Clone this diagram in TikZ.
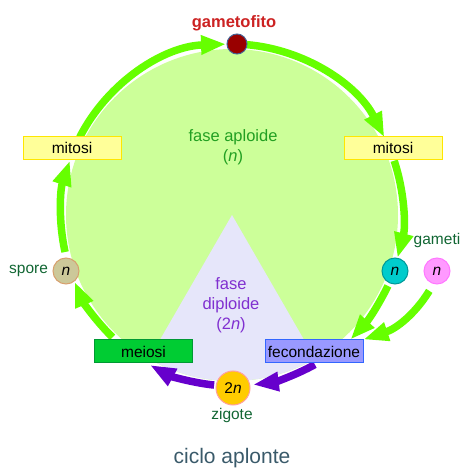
\documentclass[tikz,border=0pt]{standalone}
\usepackage{fontspec}
\setmainfont{Liberation Sans}
\usetikzlibrary{arrows.meta,calc,positioning}

\definecolor{ringgreen}{HTML}{66FF00}
\definecolor{haplgreen}{HTML}{CCFF99}
\definecolor{diplviolet}{HTML}{E6E6FA}
\definecolor{arrowviolet}{HTML}{6600CC}
\definecolor{labelgreen}{HTML}{116633}
\definecolor{haploidtext}{HTML}{22A022}
\definecolor{diploidtext}{HTML}{8030D0}
\definecolor{titletext}{HTML}{3A5A6A}

\begin{document}
\begin{tikzpicture}[x=1pt, y=1pt,
		greenarrow/.style={line width=7.5pt, color=ringgreen, -{Triangle[length=25pt, width=18pt]}},
		violetarrow/.style={line width=7.5pt, color=arrowviolet, -{Triangle[length=26pt, width=18pt]}},
		phasebox/.style={draw, line width=1pt, minimum width=98pt, minimum height=23pt, inner sep=0pt, font=\fontsize{15.5}{18}\selectfont},
		cellnode/.style={circle, draw, line width=1pt, minimum size=26pt, inner sep=0pt, font=\fontsize{15.5}{18}\selectfont},
		smalltext/.style={text=labelgreen, font=\fontsize{15.5}{18}\selectfont}]
			%%%%% START %%%%%
			\useasboundingbox (0, 0) rectangle (472, 475);
			\coordinate (ctr) at (232, 260);
			
			% the two phases
			\fill[haplgreen] (ctr) circle[radius=166pt];
			\fill[diplviolet] (ctr) -- ($(ctr)+(240:166pt)$) arc[start angle=240, end angle=300, radius=166pt] -- cycle;
			
			\node[text=haploidtext, font=\fontsize{16.5}{20}\selectfont, align=center] (aplo) at (233, 328) {fase aploide\\(\textit{n})};
			\node[text=diploidtext, font=\fontsize{16.5}{20}\selectfont, align=center] (diplo) at (231, 170) {fase\\diploide\\(2\textit{n})};
			
			% ring arrows
			\draw[greenarrow] ($(ctr)+(153:171pt)$) arc[start angle=153, end angle=92, radius=171pt];
			\draw[greenarrow] ($(ctr)+(85:171pt)$) arc[start angle=85, end angle=27, radius=171pt];
			\draw[greenarrow] ($(ctr)+(18.5:171pt)$) arc[start angle=18.5, end angle=-14.5, radius=171pt];
			\draw[greenarrow] ($(ctr)+(192.5:171pt)$) arc[start angle=192.5, end angle=161.5, radius=171pt];
			\draw[greenarrow] ($(ctr)+(225.7:171pt)$) arc[start angle=225.7, end angle=203, radius=171pt];
			\draw[violetarrow] ($(ctr)+(-61:171pt)$) arc[start angle=-61, end angle=-83, radius=171pt];
			\draw[violetarrow] ($(ctr)+(-96:171pt)$) arc[start angle=-96, end angle=-118.7, radius=171pt];
			
			% nodes
			\node[circle, draw={rgb,255:red,70;green,100;blue,150}, fill={rgb,255:red,153;green,0;blue,0}, line width=1pt, minimum size=20pt, inner sep=0pt] (gameto) at (237, 431) {};
			\node[text={rgb,255:red,204;green,34;blue,34}, font=\fontsize{16.5}{20}\selectfont\bfseries] (gametolbl) at (234, 452) {gametofito};
			
			\node[phasebox, draw={rgb,255:red,255;green,230;blue,0}, fill={rgb,255:red,255;green,255;blue,153}] (mitL) at (72, 327) {mitosi};
			\node[phasebox, draw={rgb,255:red,255;green,230;blue,0}, fill={rgb,255:red,255;green,255;blue,153}] (mitR) at (393, 327) {mitosi};
			\node[phasebox, draw={rgb,255:red,0;green,153;blue,51}, fill={rgb,255:red,0;green,204;blue,51}] (meio) at (143.5, 123.5) {meiosi};
			\node[phasebox, draw={rgb,255:red,51;green,102;blue,255}, fill={rgb,255:red,153;green,153;blue,255}] (fec) at (314, 123.5) {fecondazione};
			
			\node[cellnode, draw={rgb,255:red,215;green,160;blue,110}, fill={rgb,255:red,204;green,200;blue,153}] (spore) at (66, 204) {\textit{n}};
			\node[cellnode, draw={rgb,255:red,0;green,153;blue,153}, fill={rgb,255:red,0;green,204;blue,204}] (gamB) at (395, 204) {\textit{n}};
			\node[cellnode, draw={rgb,255:red,255;green,119;blue,255}, fill={rgb,255:red,255;green,153;blue,255}] (gamP) at (437, 204) {\textit{n}};
			\node[cellnode, draw={rgb,255:red,255;green,160;blue,160}, fill={rgb,255:red,255;green,204;blue,0}, minimum size=34pt] (zig) at (233, 87) {2\textit{n}};
			
			\node[smalltext, left=1pt of spore] (sporelbl) {spore};
			\node[smalltext] (gametilbl) at (437, 235) {gameti};
			\node[smalltext] (ziglbl) at (232, 60) {zigote};
			
			% fertilisation
			\draw[greenarrow, shorten <=3pt] (gamB.-115) to[bend left=8] ([xshift=-13pt]fec.north east);
			\draw[greenarrow, shorten <=8pt] (gamP.-105) to[bend left=20] (fec.north east);
			
			\node[text=titletext, font=\fontsize{21}{24}\selectfont] (title) at (232, 17) {ciclo aplonte};
			%%%%% END %%%%%
\end{tikzpicture}
\end{document}
